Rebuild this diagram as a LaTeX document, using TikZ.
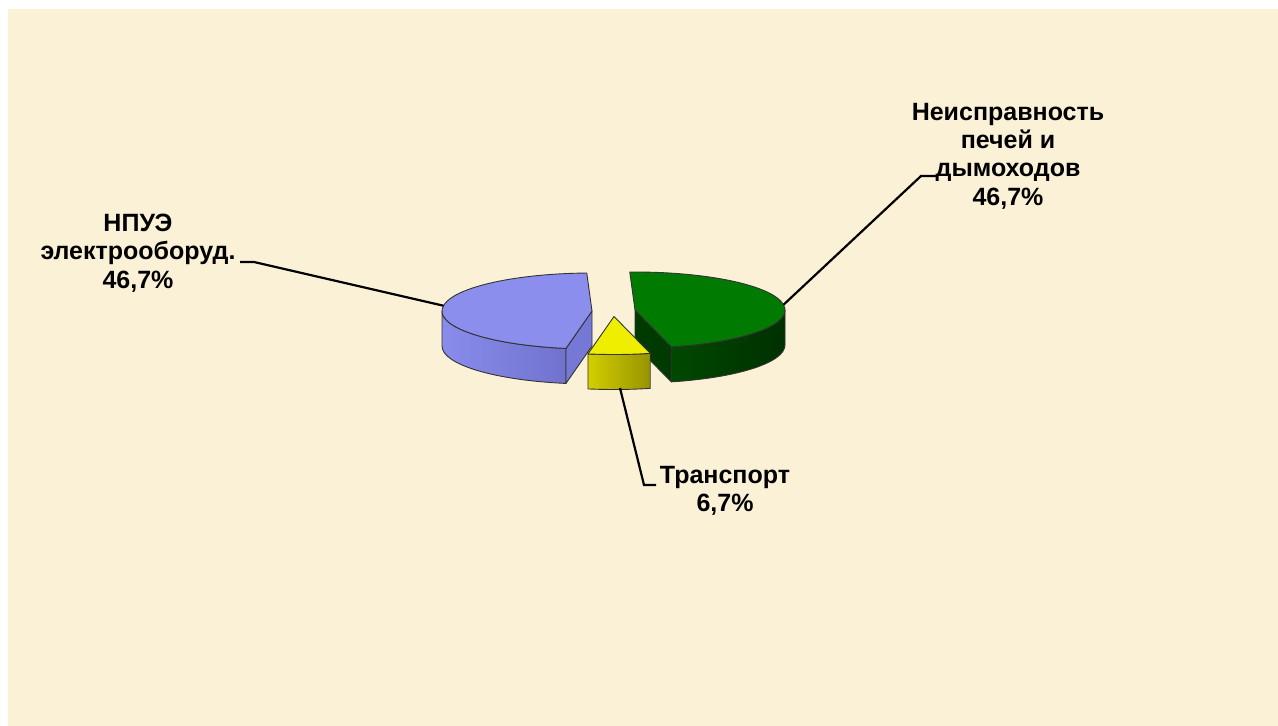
\documentclass[tikz,border=0pt]{standalone}
\usepackage{fontspec}
\setmainfont{Liberation Sans}
\usetikzlibrary{calc}
\definecolor{bgc}{RGB}{251,241,214}
\definecolor{bluetop}{RGB}{140,142,238}
\definecolor{blueL}{RGB}{138,140,236}
\definecolor{blueR}{RGB}{112,114,206}
\definecolor{blueface}{RGB}{118,120,214}
\definecolor{greentop}{RGB}{0,122,0}
\definecolor{greenL}{RGB}{0,72,0}
\definecolor{greenR}{RGB}{0,48,0}
\definecolor{greenface}{RGB}{0,58,0}
\definecolor{yeltop}{RGB}{240,238,0}
\definecolor{yelL}{RGB}{212,206,0}
\definecolor{yelR}{RGB}{150,148,0}
\tikzset{
  edge3d/.style={draw=black!80, line width=0.9pt, line join=round},
  lbl/.style={font=\fontsize{25}{28.3}\selectfont\bfseries, align=center, inner sep=0pt, text=black},
  leader/.style={draw=black, line width=2.2pt},
}
\begin{document}
\begin{tikzpicture}[x=1pt,y=1pt]
\useasboundingbox (0,0) rectangle (1278,-726);
\fill[white] (0,0) rectangle (1278,-726);
\fill[bgc] (8,-9) rectangle (1278,-726);
% apexes
\coordinate (Ab) at (592,-311);
\coordinate (Ag) at (635,-310);
\coordinate (Ay) at (614,-316.5);
% blue sides
\path[edge3d, left color=blueL, right color=blueR]
  ($(Ab)+(180:150 and 38)$) arc[start angle=180,end angle=260,x radius=150,y radius=38]
  -- ++(0,-35) arc[start angle=260,end angle=180,x radius=150,y radius=38] -- cycle;
\path[edge3d, fill=blueface]
  (Ab) -- ($(Ab)+(260:150 and 38)$) -- ++(0,-35) -- ($(Ab)+(0,-35)$) -- cycle;
% green sides
\path[edge3d, left color=greenL, right color=greenR]
  ($(Ag)+(-76:150 and 38)$) arc[start angle=-76,end angle=0,x radius=150,y radius=38]
  -- ++(0,-35) arc[start angle=0,end angle=-76,x radius=150,y radius=38] -- cycle;
\path[edge3d, fill=greenface]
  (Ag) -- ($(Ag)+(-76:150 and 38)$) -- ++(0,-35) -- ($(Ag)+(0,-35)$) -- cycle;
% tops
\path[edge3d, fill=bluetop]
  (Ab) -- ($(Ab)+(260:150 and 38)$) arc[start angle=260,end angle=92,x radius=150,y radius=38] -- cycle;
\path[edge3d, fill=greentop]
  (Ag) -- ($(Ag)+(-76:150 and 38)$) arc[start angle=-76,end angle=92,x radius=150,y radius=38] -- cycle;
% yellow
\path[edge3d, left color=yelL, right color=yelR]
  ($(Ay)+(260:150 and 38)$) arc[start angle=260,end angle=284,x radius=150,y radius=38]
  -- ++(0,-35) arc[start angle=284,end angle=260,x radius=150,y radius=38] -- cycle;
\path[edge3d, fill=yeltop]
  (Ay) -- ($(Ay)+(260:150 and 38)$) arc[start angle=260,end angle=284,x radius=150,y radius=38] -- cycle;
% labels
\node[lbl] (lb) at (138,-253) {НПУЭ\\электрооборуд.\\46,7\%};
\node[lbl] (lg) at (1008,-156) {Неисправность\\печей и\\дымоходов\\46,7\%};
\node[lbl] (ly) at (725,-491) {Транспорт\\6,7\%};
% leader points
\coordinate (bP) at ($(Ab)+(172:150 and 38)$);
\coordinate (bT1) at (240,-262);
\coordinate (bT2) at (254,-262);
\coordinate (gP) at ($(Ag)+(8:150 and 38)$);
\coordinate (gT1) at (937,-176);
\coordinate (gT2) at (921,-176);
\coordinate (yP) at (620,-388);
\coordinate (yT1) at (644,-485);
\coordinate (yT2) at (656,-485);
\draw[leader] (bT1) -- (bT2) -- (bP);
\draw[leader] (gT1) -- (gT2) -- (gP);
\draw[leader] (yT2) -- (yT1) -- (yP);
\end{tikzpicture}
\end{document}
